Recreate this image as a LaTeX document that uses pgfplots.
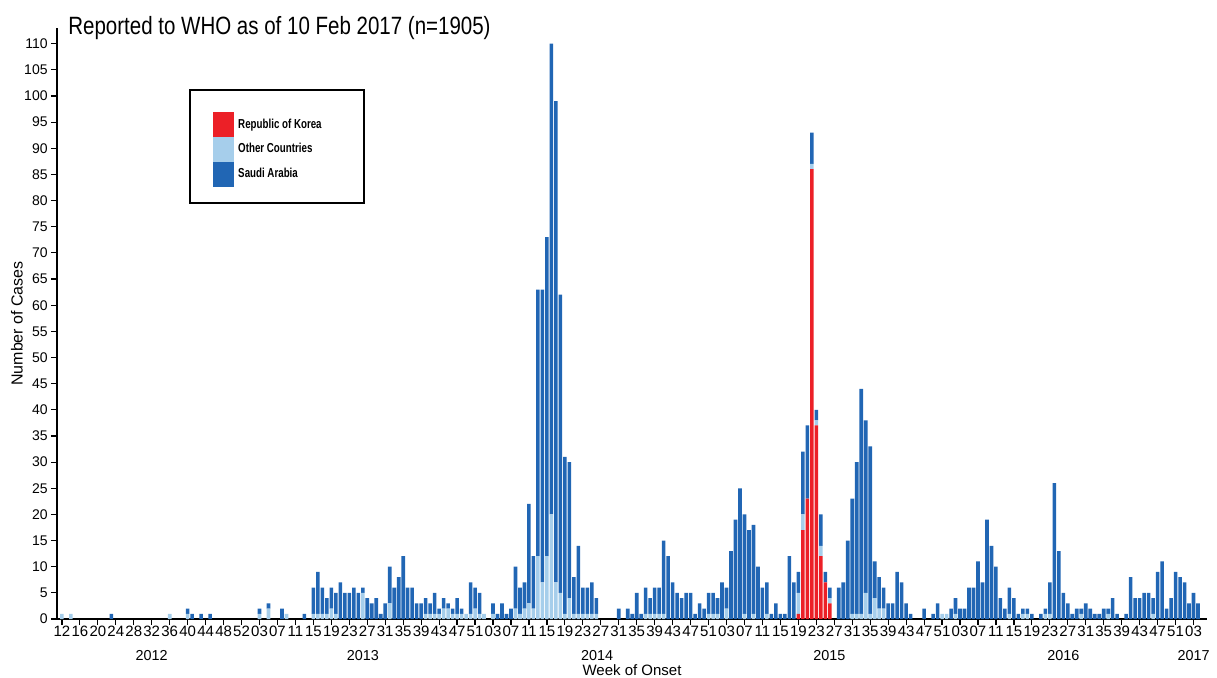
\documentclass[border=0pt]{standalone}
\usepackage{pgfplots}
\pgfplotsset{compat=1.18}
\usepackage{pgfplotstable}
\usepackage{fontspec}
\setmainfont{Liberation Sans}
\newfontfamily\narrowfont[FakeStretch=0.82]{Liberation Sans}
\newfontfamily\legfont[FakeStretch=0.75]{Liberation Sans}
\definecolor{korea}{HTML}{EC2027}
\definecolor{other}{HTML}{A6CEEB}
\definecolor{saudi}{HTML}{2166B4}

% x = week index (0 = 2012 week 12), k = Republic of Korea, o = Other Countries, s = Saudi Arabia
\pgfplotstableread{
x k o s
0 0 1 0
2 0 1 0
11 0 0 1
24 0 1 0
28 0 1 1
29 0 0 1
31 0 0 1
33 0 0 1
44 0 1 1
46 0 2 1
49 0 0 2
50 0 1 0
54 0 0 1
56 0 1 5
57 0 1 8
58 0 1 5
59 0 1 3
60 0 2 4
61 0 1 4
62 0 0 7
63 0 0 5
64 0 0 5
65 0 0 6
66 0 0 5
67 0 5 1
68 0 0 4
69 0 0 3
70 0 0 4
71 0 0 1
72 0 0 3
73 0 3 7
74 0 0 6
75 0 0 8
76 0 0 12
77 0 0 6
78 0 0 6
79 0 0 3
80 0 0 3
81 0 1 3
82 0 1 2
83 0 1 4
84 0 1 1
85 0 2 2
86 0 2 1
87 0 1 1
88 0 1 3
89 0 1 1
90 0 1 0
91 0 1 6
92 0 2 4
93 0 1 4
94 0 1 0
96 0 1 2
97 0 0 1
98 0 0 3
99 0 0 1
100 0 0 2
101 0 2 8
102 0 1 5
103 0 2 5
104 0 3 19
105 0 2 10
106 0 12 51
107 0 7 56
108 0 12 61
109 0 20 90
110 0 7 92
111 0 5 57
112 0 1 30
113 0 4 26
114 0 1 7
115 0 1 13
116 0 1 5
117 0 1 5
118 0 1 6
119 0 1 3
124 0 0 2
126 0 0 2
127 0 0 1
128 0 0 5
129 0 0 1
130 0 1 5
131 0 1 3
132 0 1 5
133 0 1 5
134 0 1 14
135 0 0 12
136 0 0 7
137 0 0 5
138 0 0 4
139 0 0 5
140 0 0 5
141 0 0 1
142 0 0 3
143 0 0 2
144 0 1 4
145 0 1 4
146 0 1 3
147 0 0 7
148 0 2 4
149 0 0 13
150 0 0 19
151 0 0 25
152 0 1 19
153 0 0 17
154 0 1 17
155 0 0 10
156 0 0 6
157 0 1 6
158 0 0 1
159 0 0 3
160 0 0 1
161 0 0 1
162 0 0 12
163 0 0 7
164 1 4 4
165 17 3 12
166 23 0 14
167 86 1 6
168 37 1 2
169 12 2 6
170 7 0 2
171 3 1 2
173 0 0 6
174 0 0 7
175 0 0 15
176 0 1 22
177 0 1 29
178 0 1 43
179 0 5 33
180 0 1 32
181 0 4 7
182 0 2 6
183 0 2 4
184 0 0 3
185 0 0 3
186 0 0 9
187 0 0 7
188 0 0 3
189 0 0 1
192 0 0 2
194 0 0 1
195 0 0 3
196 0 1 0
197 0 1 0
198 0 0 2
199 0 1 3
200 0 0 2
201 0 0 2
202 0 0 6
203 0 0 6
204 0 0 11
205 0 0 7
206 0 0 19
207 0 0 14
208 0 0 10
209 0 0 4
210 0 0 2
211 0 1 5
212 0 0 4
213 0 0 1
214 0 1 1
215 0 1 1
216 0 0 1
218 0 0 1
219 0 1 1
220 0 1 6
221 0 0 26
222 0 0 13
223 0 0 5
224 0 0 3
225 0 0 1
226 0 0 2
227 0 1 1
228 0 0 3
229 0 0 2
230 0 0 1
231 0 0 1
232 0 0 2
233 0 1 1
234 0 0 4
235 0 0 1
237 0 0 1
238 0 0 8
239 0 0 4
240 0 0 4
241 0 0 5
242 0 0 5
243 0 1 3
244 0 0 9
245 0 0 11
246 0 0 2
247 0 0 4
248 0 0 9
249 0 0 8
250 0 0 7
251 0 0 3
252 0 0 5
253 0 0 3
}\data

\begin{document}
\begin{tikzpicture}
\useasboundingbox (-28.5pt,-29pt) rectangle (580pt,309.5pt);
\begin{axis}[
  at={(0pt,0pt)}, anchor=south west,
  scale only axis, width=575pt, height=295.5pt,
  xmin=-1.1, xmax=255, ymin=0, ymax=113,
  axis x line=bottom, axis y line=left,
  axis line style={-},
  x axis line style={line width=1pt},
  y axis line style={line width=0.6pt},
  ybar stacked, bar width=0.8,
  xtick={0,4,...,252},
  xticklabels={12,16,20,24,28,32,36,40,44,48,52,
    03,07,11,15,19,23,27,31,35,39,43,47,51,
    03,07,11,15,19,23,27,31,35,39,43,47,51,
    03,07,11,15,19,23,27,31,35,39,43,47,51,
    03,07,11,15,19,23,27,31,35,39,43,47,51,03},
  ytick={0,5,...,110},
  tick align=outside,
  major tick length=3pt,
  tick style={black, line width=0.6pt},
  xticklabel style={font=\fontsize{7.5}{8}\selectfont, inner sep=0.5pt},
  yticklabel style={font=\fontsize{7}{8}\selectfont, inner sep=1.5pt},
  /pgf/number format/assume math mode=true,
  ylabel={Number of Cases},
  ylabel style={at={([xshift=-20pt]axis description cs:0,0.5)}, anchor=center, font=\fontsize{8}{9}\selectfont},
  xlabel={Week of Onset},
  xlabel style={at={(axis description cs:0.5,0)}, anchor=base, yshift=-28pt, font=\fontsize{7.5}{8}\selectfont},
  clip=false,
  legend style={at={(axis description cs:0.1357,0.8579)}, anchor=north west,
    draw=none, fill=none, inner sep=0pt, nodes={inner sep=0pt, anchor=west},
    /tikz/every odd column/.append style={column sep=2pt},
    font=\legfont\bfseries\fontsize{6.5}{7}\selectfont},
  legend cell align=left,
]
\addlegendimage{legend image code/.code={\fill[korea] (0pt,-6pt) rectangle (10pt,6pt);}}
\addlegendentry{Republic of Korea}
\addlegendimage{legend image code/.code={\fill[other] (0pt,-6pt) rectangle (10pt,6pt);}}
\addlegendentry{Other Countries}
\addlegendimage{legend image code/.code={\fill[saudi] (0pt,-6pt) rectangle (10pt,6pt);}}
\addlegendentry{Saudi Arabia}

\addplot[fill=korea, draw=none, forget plot] table[x=x, y=k] {\data};
\addplot[fill=other, draw=none, forget plot] table[x=x, y=o] {\data};
\addplot[fill=saudi, draw=none, forget plot] table[x=x, y=s] {\data};

\draw[line width=1pt] (axis description cs:0.1157,0.7039) rectangle (axis description cs:0.2670,0.8951);

\node[anchor=base, font=\fontsize{7.2}{8}\selectfont] at ([yshift=-20.5pt]axis cs:20,0) {2012};
\node[anchor=base, font=\fontsize{7.2}{8}\selectfont] at ([yshift=-20.5pt]axis cs:67,0) {2013};
\node[anchor=base, font=\fontsize{7.2}{8}\selectfont] at ([yshift=-20.5pt]axis cs:119.2,0) {2014};
\node[anchor=base, font=\fontsize{7.2}{8}\selectfont] at ([yshift=-20.5pt]axis cs:170.9,0) {2015};
\node[anchor=base, font=\fontsize{7.2}{8}\selectfont] at ([yshift=-20.5pt]axis cs:223,0) {2016};
\node[anchor=base, font=\fontsize{7.2}{8}\selectfont] at ([yshift=-20.5pt]axis cs:252,0) {2017};
\end{axis}
\node[anchor=base west, inner sep=0pt, font=\narrowfont\fontsize{12.5}{14}\selectfont] at (5.5pt,292.5pt) {Reported to WHO as of 10 Feb 2017 (n=1905)};
\end{tikzpicture}
\end{document}
